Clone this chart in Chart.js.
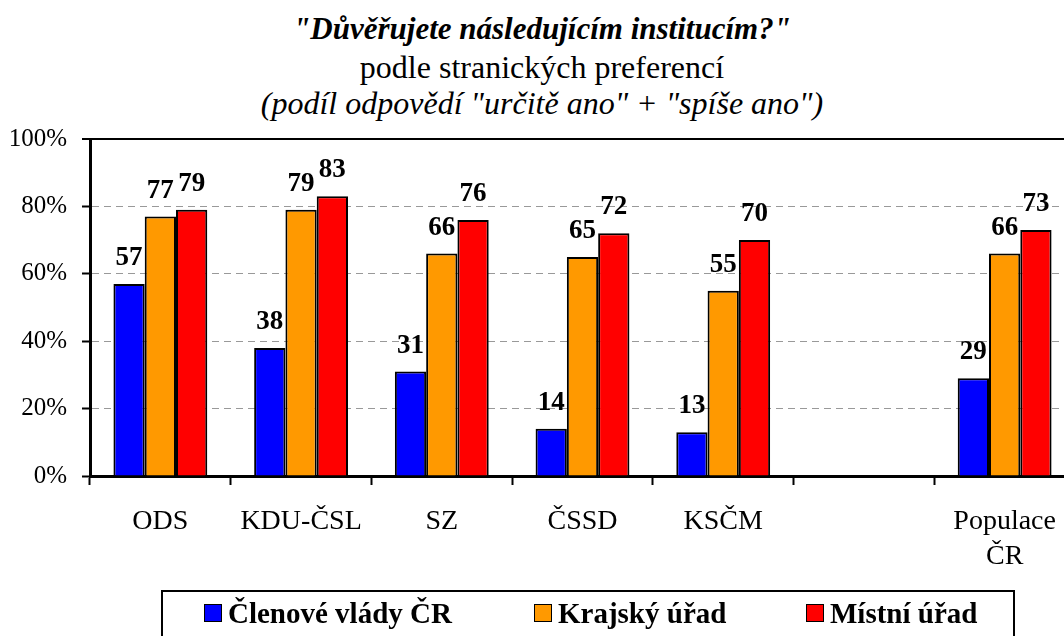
<!DOCTYPE html>
<html>
<head>
<meta charset="utf-8">
<script src="https://cdn.jsdelivr.net/npm/chart.js@4"></script>
<style>
    html, body { margin: 0; padding: 0; background: #fff; overflow: hidden; }
    #wrap { position: relative; width: 1064px; height: 636px; overflow: hidden; font-family: "Liberation Serif", "DejaVu Serif", serif; color: #000; }
    #chart { position: absolute; left: 0; top: 0; }
    .title { position: absolute; left: 0; width: 1084px; text-align: center; white-space: nowrap; }
    #t1 { top: 12px; font-size: 31px; line-height: 34px; font-weight: bold; font-style: italic; }
    #t2 { top: 50px; font-size: 32px; line-height: 35px; }
    #t3 { top: 86px; font-size: 32px; line-height: 35px; font-style: italic; }
    #legend { position: absolute; left: 161px; top: 590px; width: 854px; height: 70px; border: 2px solid #000; box-sizing: border-box; }
    .item { position: absolute; top: 5px; display: flex; align-items: center; font-size: 29px; font-weight: bold; line-height: 32px; }
    .swatch { width: 18px; height: 18px; border: 1.5px solid #000; box-sizing: border-box; margin-right: 6px; }
</style>
</head>
<body>
<div id="wrap">
    <div class="title" id="t1">"Důvěřujete následujícím institucím?"</div>
    <div class="title" id="t2">podle stranických preferencí</div>
    <div class="title" id="t3">(podíl odpovědí "určitě ano" + "spíše ano")</div>
    <canvas id="chart" width="1075" height="636"></canvas>
    <div id="legend"></div>
</div>
<script>
// Data
const categories = ['ODS', 'KDU-ČSL', 'SZ', 'ČSSD', 'KSČM', '', ['Populace', 'ČR']];
const seriesNames = ['Členové vlády ČR', 'Krajský úřad', 'Místní úřad'];
const vladaValues = [57, 38, 31, 14, 13, null, 29];
const krajValues = [77, 79, 66, 65, 55, null, 66];
const mistniValues = [79, 83, 76, 72, 70, null, 73];
const yTicks = [0, 20, 40, 60, 80, 100];

const seriesColors = ['#0000FF', '#FF9900', '#FF0000'];
const legendLeft = [202, 532, 804];
const serif = '"Liberation Serif", "DejaVu Serif", serif';

// value labels above the bars
const barLabels = {
    id: 'barLabels',
    afterDatasetsDraw(chart) {
        const ctx = chart.ctx;
        ctx.save();
        ctx.font = 'bold 27px ' + serif;
        ctx.fillStyle = '#000';
        ctx.textAlign = 'center';
        ctx.textBaseline = 'alphabetic';
        chart.data.datasets.forEach((ds, i) => {
            chart.getDatasetMeta(i).data.forEach((bar, j) => {
                const v = ds.data[j];
                if (v === null || v === undefined) return;
                ctx.fillText(String(v), bar.x, bar.y - 19);
            });
        });
        ctx.restore();
    }
};

const datasets = [vladaValues, krajValues, mistniValues].map((vals, i) => ({
    label: seriesNames[i],
    data: vals,
    backgroundColor: seriesColors[i],
    borderColor: '#000',
    borderWidth: 2,
    categoryPercentage: 0.667,
    barPercentage: 1
}));

new Chart(document.getElementById('chart'), {
    type: 'bar',
    data: { labels: categories, datasets: datasets },
    options: {
        responsive: false,
        animation: false,
        layout: { padding: { top: 139, left: 0, right: 0, bottom: 0 } },
        plugins: {
            legend: { display: false },
            title: { display: false },
            tooltip: { enabled: false }
        },
        scales: {
            x: {
                afterFit(scale) { scale.height = 160; },
                grid: {
                    drawOnChartArea: false,
                    drawTicks: true,
                    tickLength: 9,
                    tickColor: '#000',
                    tickWidth: 2,
                    color: '#000'
                },
                border: { color: '#000', width: 3 },
                ticks: {
                    color: '#000',
                    font: { family: serif, size: 28, lineHeight: 1.25 },
                    padding: 19,
                    maxRotation: 0,
                    autoSkip: false
                }
            },
            y: {
                min: 0,
                max: 100,
                afterFit(scale) { scale.width = 90; },
                afterBuildTicks(scale) { scale.ticks = yTicks.map(v => ({ value: v })); },
                grid: {
                    color: c => c.tick && c.tick.value === 100 ? '#000' : (c.tick && c.tick.value === 0 ? 'rgba(0,0,0,0)' : '#999'),
                    lineWidth: c => c.tick && c.tick.value === 100 ? 2 : 1,
                    tickLength: 8,
                    tickColor: '#000',
                    tickWidth: 2
                },
                border: {
                    color: '#000',
                    width: 3,
                    dash: c => c.tick && c.tick.value === 100 ? [] : [7, 5]
                },
                ticks: {
                    color: '#000',
                    font: { family: serif, size: 25 },
                    padding: 15,
                    callback: v => v + '%'
                }
            }
        }
    },
    plugins: [barLabels]
});

// legend
const legend = document.getElementById('legend');
seriesNames.forEach((name, i) => {
    const item = document.createElement('div');
    item.className = 'item';
    item.style.left = (legendLeft[i] - 161) + 'px';
    const sw = document.createElement('span');
    sw.className = 'swatch';
    sw.style.background = seriesColors[i];
    const txt = document.createElement('span');
    txt.textContent = name;
    item.appendChild(sw);
    item.appendChild(txt);
    legend.appendChild(item);
});
</script>
</body>
</html>
